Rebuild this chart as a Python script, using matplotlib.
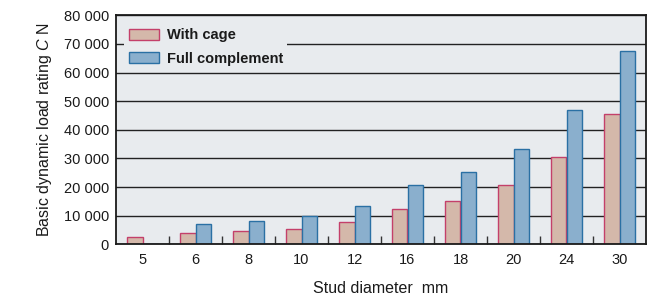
import matplotlib
matplotlib.use("Agg")
import matplotlib.pyplot as plt
import numpy as np

plt.rcParams['font.family'] = ['Liberation Sans', 'DejaVu Sans']
plt.rcParams['mathtext.fontset'] = 'custom'
plt.rcParams['mathtext.rm'] = 'Liberation Sans'
plt.rcParams['mathtext.it'] = 'Liberation Sans:style=italic'

categories = ["5", "6", "8", "10", "12", "16", "18", "20", "24", "30"]
with_cage = [2500, 3800, 4500, 5300, 7900, 12200, 15000, 20700, 30600, 45500]
full_complement = [0, 7000, 8200, 9900, 13400, 20700, 25300, 33300, 46800, 67600]
yticks = [0, 10000, 20000, 30000, 40000, 50000, 60000, 70000, 80000]
ytick_labels = ["0", "10 000", "20 000", "30 000", "40 000", "50 000", "60 000", "70 000", "80 000"]

fig = plt.figure(figsize=(6.72, 2.97), dpi=100)
ax = fig.add_axes([116/672, 1-244.3/297, 530/672, 229/297])
ax.set_facecolor('#e8ebee')

x = np.arange(len(categories))
w = 0.3
ax.bar(x - w/2, with_cage, width=w, color='#d4b8aa', edgecolor='#c4406a', linewidth=1.0, zorder=3, label='With cage')
ax.bar(x + w/2, full_complement, width=w, color='#8aafcd', edgecolor='#2a70a4', linewidth=1.0, zorder=3, label='Full complement')

ax.set_xlim(-0.5, len(categories) - 0.5)
ax.set_ylim(0, 80000)
ax.set_yticks(yticks)
ax.set_yticklabels(ytick_labels)
ax.set_xticks(x)
ax.set_xticklabels(categories)
ax.set_xticks(np.arange(0.5, len(categories) - 1, 1.0), minor=True)
ax.tick_params(axis='x', which='major', length=0, pad=6, labelsize=10.5, colors='#1a1a1a')
ax.tick_params(axis='x', which='minor', direction='in', length=6, width=1.0, color='#333333')
ax.tick_params(axis='y', length=0, pad=5, labelsize=10.5, colors='#1a1a1a')

ax.yaxis.grid(True, color='#222222', linewidth=1.0, zorder=1)
ax.set_axisbelow(True)
for s in ax.spines.values():
    s.set_color('#1a1a1a')
    s.set_linewidth(1.3)
    s.set_zorder(4)

ax.set_xlabel('Stud diameter  mm', fontsize=11.5, labelpad=10, color='#1a1a1a')
ax.set_ylabel('Basic dynamic load rating $\\mathit{C}$ N', fontsize=11.5, labelpad=7, color='#1a1a1a')

leg = ax.legend(loc='upper left', bbox_to_anchor=(0.016, 0.962), frameon=True, fancybox=False,
                handlelength=2.05, handleheight=0.8, handletextpad=0.55, labelspacing=0.65,
                borderaxespad=0.0, borderpad=0.3, prop={'size': 10.5, 'weight': 'bold'})
leg.get_frame().set_facecolor('#e8ebee')
leg.get_frame().set_edgecolor('none')
leg.get_frame().set_alpha(1.0)
leg.set_zorder(5)
for t in leg.get_texts():
    t.set_color('#1a1a1a')

fig.savefig('out.png', dpi=100)
